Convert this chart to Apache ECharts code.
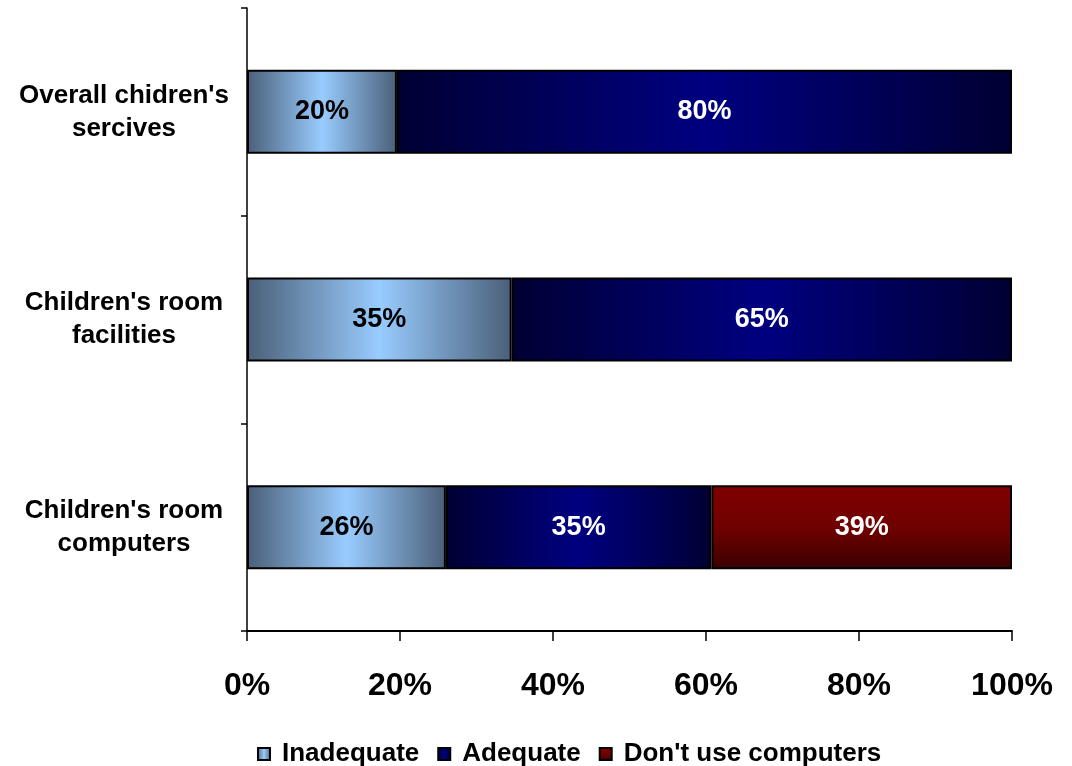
<!DOCTYPE html>
<html><head><meta charset="utf-8">
<script src="https://cdn.jsdelivr.net/npm/echarts@6/dist/echarts.min.js"></script>
<style>html,body{margin:0;padding:0;background:#fff}#c{width:1072px;height:766px}</style>
</head><body><div id="c"></div>
<script>
const categories = ["Overall chidren's\nsercives", "Children's room\nfacilities", "Children's room\ncomputers"];
const inadequate = [19.6, 34.6, 26.0];
const adequate = [80.4, 65.4, 34.7];
const dontUse = [null, null, 39.3];
const xTicks = [0, 20, 40, 60, 80, 100];

const font = 'Liberation Sans, Arial, sans-serif';
function hGrad(edge, mid){
  return new echarts.graphic.LinearGradient(0,0,1,0,[
    {offset:0,color:edge},{offset:0.5,color:mid},{offset:1,color:edge}]);
}
const chart = echarts.init(document.getElementById('c'));
const lbl = (col) => ({show:true, position:'inside', color:col, fontFamily:font, fontWeight:'bold', fontSize:27,
  formatter: p => p.value == null ? '' : Math.round(p.value) + '%'});
chart.setOption({
  animation:false,
  grid:{left:247, right:60, top:8, bottom:135},
  legend:{left:252, top:736, icon:'rect', itemWidth:12, itemHeight:12, itemGap:18,
    textStyle:{fontFamily:font, fontWeight:'bold', fontSize:26, color:'#000', padding:[0,0,0,7]},
    data:['Inadequate','Adequate',"Don't use computers"]},
  xAxis:{type:'value', min:0, max:100, interval:20,
    axisLine:{show:true, lineStyle:{color:'#000', width:2}},
    axisTick:{show:true, length:10, lineStyle:{color:'#000', width:1.5}},
    splitLine:{show:false},
    axisLabel:{formatter: v => xTicks.includes(v) ? v + '%' : '', margin:39, fontFamily:font, fontWeight:'bold', fontSize:32, color:'#000'}},
  yAxis:{type:'category', inverse:true, data:categories,
    axisLine:{show:true, lineStyle:{color:'#000', width:1.5}},
    axisTick:{show:true, length:6, lineStyle:{color:'#000', width:1.5}},
    axisLabel:{align:'center', margin:123, fontFamily:font, fontWeight:'bold', fontSize:26, color:'#000', lineHeight:33}},
  series:[
    {name:'Inadequate', type:'bar', stack:'a', barWidth:84, data:inadequate,
     itemStyle:{color:hGrad('#4a5f78','#99ccff'), borderColor:'#000', borderWidth:2},
     label:lbl('#000')},
    {name:'Adequate', type:'bar', stack:'a', barWidth:84, data:adequate,
     itemStyle:{color:hGrad('#000033','#000080'), borderColor:'#000', borderWidth:2},
     label:lbl('#fff')},
    {name:"Don't use computers", type:'bar', stack:'a', barWidth:84, data:dontUse,
     itemStyle:{color:new echarts.graphic.LinearGradient(0,0,0,1,[{offset:0,color:'#800000'},{offset:0.5,color:'#700000'},{offset:1,color:'#3a0000'}]), borderColor:'#000', borderWidth:2},
     label:lbl('#fff')}
  ]
});
</script></body></html>
